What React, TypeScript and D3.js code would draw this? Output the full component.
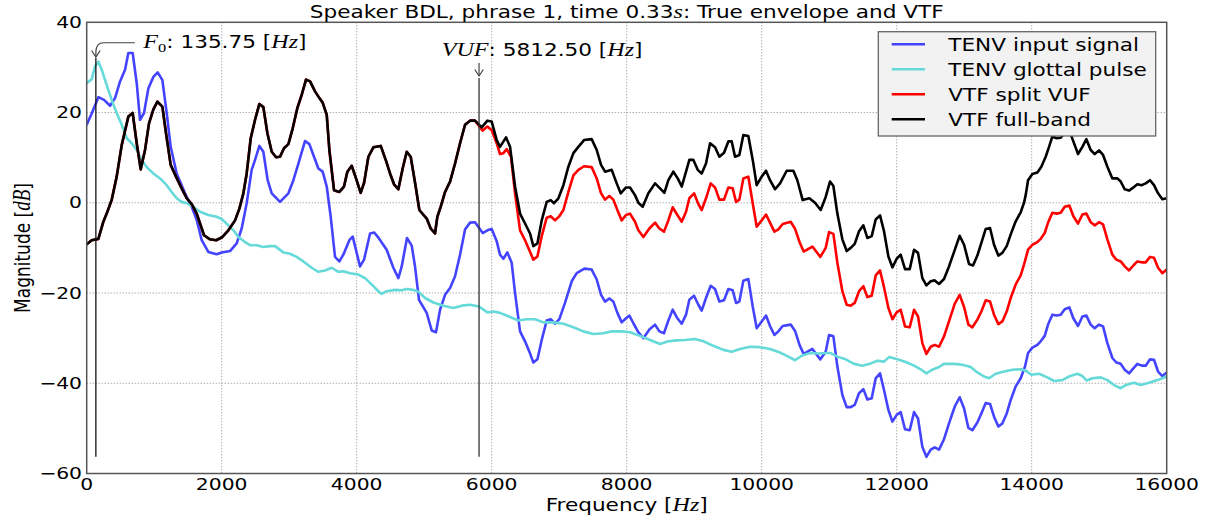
import React from "react";
import * as d3 from "d3";

type P = [number, number];

const F0 = 135.75;
const VUF = 5812.5;
const F0_TIP_DB = 32.3;
const VUF_TIP_DB = 28.1;
const VLINE_BOTTOM_DB = -56.3;

const xTicks = [0, 2000, 4000, 6000, 8000, 10000, 12000, 14000, 16000];
const yTicks = [-60, -40, -20, 0, 20, 40];

const legendLabels = ["TENV input signal", "TENV glottal pulse", "VTF split VUF", "VTF full-band"];

const tenvInput: P[] = [
  [0,17.3],[74,19.8],[173,23.4],[257,22.8],[346,21.5],[420,23.2],[494,26.9],[568,29.5],[617,33.2],[681,33.2],[741,26.5],[790,18.4],[849,19.9],[914,25.4],[988,27.9],[1052,28.9],[1121,27.2],[1185,19.9],[1244,12.4],[1333,6.5],[1457,2.1],[1556,-0.9],[1630,-3.8],[1704,-8.3],[1802,-10.9],[1926,-11.4],[2000,-11.0],[2123,-10.7],[2222,-9.0],[2296,-5.7],[2370,-0.1],[2444,7.3],[2494,9.5],[2558,12.6],[2617,11.3],[2681,5.0],[2741,2.1],[2864,0.2],[2988,2.1],[3062,5.0],[3136,8.7],[3235,13.7],[3299,13.0],[3358,10.6],[3432,7.6],[3496,6.9],[3556,3.6],[3615,-3.1],[3679,-12.0],[3743,-13.0],[3802,-11.5],[3891,-8.3],[3941,-7.5],[4049,-14.1],[4109,-12.6],[4198,-6.8],[4260,-6.6],[4330,-7.9],[4444,-10.4],[4543,-14.4],[4617,-16.7],[4667,-14.1],[4745,-7.8],[4815,-9.5],[4864,-14.1],[4923,-21.5],[5037,-24.4],[5111,-28.3],[5175,-28.7],[5235,-23.7],[5309,-20.4],[5383,-18.9],[5457,-16.3],[5531,-11.5],[5605,-5.9],[5679,-4.4],[5753,-4.3],[5867,-6.7],[5936,-6.1],[6000,-5.8],[6074,-8.5],[6123,-11.5],[6173,-12.4],[6232,-11.0],[6296,-13.3],[6346,-20.0],[6420,-28.5],[6494,-30.7],[6558,-33.0],[6617,-35.4],[6677,-34.7],[6741,-30.4],[6815,-26.1],[6874,-25.8],[6938,-26.8],[7002,-25.8],[7086,-22.2],[7185,-17.4],[7259,-15.6],[7373,-14.6],[7481,-14.8],[7556,-17.0],[7620,-20.4],[7679,-21.9],[7743,-21.2],[7802,-21.9],[7862,-24.4],[7926,-26.5],[7990,-25.6],[8040,-25.0],[8099,-26.7],[8173,-28.7],[8247,-30.0],[8336,-28.1],[8420,-27.0],[8484,-28.5],[8553,-28.9],[8617,-26.1],[8681,-23.7],[8751,-25.6],[8815,-26.8],[8879,-24.8],[8928,-21.5],[8998,-20.6],[9062,-22.6],[9111,-23.9],[9175,-21.1],[9244,-18.4],[9309,-19.1],[9373,-21.9],[9442,-21.6],[9506,-19.1],[9570,-19.4],[9620,-22.2],[9669,-21.9],[9728,-17.3],[9802,-16.9],[9867,-23.0],[9926,-27.8],[10000,-26.3],[10064,-25.0],[10123,-27.3],[10188,-29.3],[10247,-28.5],[10311,-27.3],[10430,-27.0],[10494,-28.4],[10563,-31.6],[10622,-33.5],[10751,-32.4],[10869,-34.7],[10948,-33.0],[10998,-29.3],[11062,-29.6],[11121,-36.3],[11195,-42.6],[11259,-45.3],[11319,-45.3],[11378,-44.8],[11442,-42.2],[11506,-41.3],[11565,-43.6],[11630,-43.3],[11689,-38.9],[11753,-37.8],[11812,-41.5],[11877,-45.9],[11936,-48.5],[12000,-47.0],[12059,-46.4],[12123,-50.2],[12193,-50.4],[12257,-46.4],[12316,-47.8],[12380,-54.1],[12440,-56.3],[12504,-54.7],[12563,-54.2],[12627,-54.7],[12701,-52.4],[12775,-48.9],[12859,-45.2],[12933,-43.1],[12998,-45.6],[13062,-49.9],[13121,-50.4],[13195,-48.7],[13254,-46.7],[13319,-44.4],[13383,-44.6],[13442,-47.4],[13506,-49.6],[13565,-48.9],[13630,-46.7],[13689,-43.7],[13763,-40.7],[13837,-38.9],[13901,-36.3],[13946,-33.3],[14010,-32.1],[14084,-31.5],[14133,-30.7],[14193,-29.5],[14242,-27.0],[14306,-24.8],[14370,-25.0],[14430,-24.8],[14489,-23.6],[14558,-23.2],[14617,-25.6],[14686,-27.3],[14751,-25.2],[14810,-25.0],[14874,-27.0],[14933,-27.8],[14998,-27.0],[15057,-27.4],[15121,-31.1],[15195,-34.4],[15254,-35.4],[15319,-35.7],[15378,-37.0],[15442,-37.8],[15506,-36.7],[15565,-35.7],[15630,-36.1],[15689,-36.1],[15753,-34.7],[15812,-34.8],[15872,-37.4],[15936,-38.4],[16000,-37.6],
];

const tenvGlottal: P[] = [
  [0,26.5],[74,27.4],[123,30.2],[173,31.3],[222,29.5],[296,26.1],[370,22.8],[444,19.9],[519,17.3],[593,14.3],[667,13.2],[741,11.7],[815,9.5],[889,7.9],[988,6.5],[1086,5.4],[1185,3.9],[1259,2.4],[1333,1.0],[1407,0.2],[1481,-0.1],[1580,-0.9],[1679,-2.0],[1802,-2.7],[1926,-3.1],[2000,-3.6],[2099,-5.0],[2173,-6.1],[2247,-7.6],[2346,-8.7],[2420,-9.4],[2519,-9.4],[2617,-9.8],[2716,-9.6],[2790,-9.6],[2914,-11.0],[3012,-11.3],[3111,-12.0],[3210,-13.0],[3333,-14.4],[3432,-15.3],[3531,-15.0],[3630,-14.4],[3728,-15.3],[3802,-15.2],[3901,-15.6],[4025,-15.9],[4123,-16.7],[4222,-18.1],[4321,-19.6],[4370,-20.2],[4444,-19.6],[4568,-19.3],[4667,-19.4],[4741,-19.1],[4840,-19.3],[4914,-19.7],[5012,-21.1],[5136,-22.1],[5284,-22.8],[5432,-23.3],[5556,-22.8],[5679,-22.6],[5812,-23.0],[5936,-24.3],[6025,-24.1],[6123,-24.4],[6272,-25.3],[6395,-26.1],[6519,-25.8],[6642,-25.8],[6765,-26.5],[6914,-26.5],[7062,-26.8],[7210,-27.6],[7358,-28.5],[7506,-29.1],[7654,-28.9],[7778,-28.5],[7926,-28.5],[8049,-28.7],[8198,-29.5],[8346,-30.4],[8494,-31.3],[8617,-30.7],[8741,-30.5],[8864,-30.4],[9012,-30.2],[9136,-30.7],[9284,-31.7],[9432,-32.6],[9556,-33.0],[9679,-32.4],[9827,-31.9],[9975,-32.0],[10123,-32.4],[10272,-33.2],[10395,-34.1],[10494,-34.9],[10593,-33.9],[10716,-33.3],[10839,-33.4],[10960,-33.3],[11022,-33.3],[11121,-34.1],[11244,-34.7],[11368,-35.7],[11491,-36.1],[11615,-35.6],[11714,-35.0],[11812,-35.2],[11886,-34.2],[12010,-34.7],[12133,-35.3],[12257,-36.1],[12356,-36.9],[12440,-37.8],[12528,-37.0],[12627,-36.4],[12701,-35.7],[12849,-35.7],[12973,-35.9],[13096,-36.4],[13195,-37.6],[13294,-38.5],[13368,-38.9],[13467,-37.9],[13590,-37.4],[13714,-37.0],[13837,-36.9],[13911,-37.2],[13995,-38.1],[14109,-37.9],[14232,-38.7],[14331,-39.5],[14454,-39.3],[14553,-38.5],[14677,-37.9],[14751,-38.4],[14815,-39.4],[14899,-38.9],[15022,-38.7],[15121,-39.3],[15220,-40.4],[15319,-41.1],[15393,-40.4],[15516,-39.9],[15615,-40.4],[15738,-39.9],[15862,-39.3],[15936,-38.9],[16000,-38.5],
];

const vtfFull: P[] = [
  [0,-9.2],[74,-8.3],[173,-8.0],[247,-4.2],[296,-2.4],[370,0.6],[444,5.8],[519,12.8],[617,19.1],[681,19.9],[741,13.2],[800,7.4],[864,11.7],[923,17.6],[988,20.7],[1047,22.4],[1121,21.3],[1175,15.4],[1244,8.4],[1323,5.8],[1407,3.2],[1481,1.0],[1556,-0.3],[1630,-2.4],[1738,-7.2],[1827,-8.1],[1916,-8.3],[2000,-7.7],[2099,-6.1],[2198,-3.9],[2262,-1.3],[2321,2.1],[2370,6.5],[2430,14.3],[2494,18.4],[2558,21.9],[2617,21.2],[2677,15.4],[2741,11.3],[2805,10.1],[2864,10.2],[2923,12.1],[2988,13.0],[3052,16.5],[3121,21.0],[3185,23.9],[3249,27.3],[3309,26.9],[3383,24.7],[3447,23.2],[3496,22.2],[3556,19.5],[3595,11.7],[3664,2.8],[3743,2.4],[3812,3.6],[3862,6.9],[3926,8.2],[3990,5.4],[4059,2.2],[4109,4.4],[4173,10.2],[4247,12.3],[4356,12.6],[4435,9.3],[4494,6.5],[4553,4.1],[4617,3.0],[4681,7.6],[4741,11.3],[4800,10.2],[4864,4.5],[4928,-1.6],[5037,-3.5],[5096,-5.7],[5160,-6.8],[5195,-3.1],[5244,-0.9],[5309,2.4],[5383,4.7],[5457,8.7],[5531,13.2],[5605,17.3],[5679,18.2],[5753,18.2],[5852,16.7],[5936,18.2],[6000,18.0],[6074,13.9],[6123,12.4],[6212,14.5],[6272,12.4],[6346,3.6],[6420,-2.4],[6494,-4.6],[6568,-6.8],[6617,-9.6],[6677,-9.0],[6741,-3.9],[6815,0.2],[6874,0.6],[6923,-0.1],[6988,1.0],[7062,3.9],[7136,8.0],[7210,11.0],[7284,12.4],[7368,13.9],[7481,14.1],[7556,11.7],[7620,8.4],[7679,6.9],[7778,7.3],[7852,4.3],[7911,2.1],[7990,3.4],[8049,3.4],[8123,1.7],[8173,0.0],[8237,-0.9],[8321,2.1],[8420,4.3],[8494,3.2],[8558,2.2],[8617,5.0],[8691,6.9],[8756,5.4],[8815,3.6],[8879,6.9],[8928,9.5],[8988,9.5],[9052,7.3],[9111,6.5],[9175,8.7],[9235,13.2],[9309,12.3],[9373,10.2],[9442,11.1],[9506,13.6],[9556,13.6],[9605,10.2],[9669,10.6],[9728,15.0],[9802,14.8],[9867,9.5],[9926,3.9],[10000,5.8],[10064,7.1],[10123,5.0],[10198,3.0],[10272,4.3],[10370,7.1],[10469,7.1],[10528,5.0],[10607,0.6],[10706,1.0],[10790,0.0],[10874,-1.6],[10948,1.3],[11012,4.7],[11062,3.7],[11121,-2.4],[11195,-8.1],[11259,-10.7],[11319,-10.0],[11378,-9.1],[11442,-6.3],[11506,-5.0],[11565,-7.8],[11630,-7.4],[11689,-3.7],[11753,-2.8],[11812,-6.3],[11877,-11.9],[11936,-14.3],[12000,-12.4],[12059,-11.5],[12123,-14.7],[12193,-14.7],[12257,-10.4],[12316,-11.1],[12380,-16.7],[12440,-18.3],[12504,-17.4],[12563,-17.2],[12627,-18.0],[12701,-16.9],[12775,-14.1],[12859,-10.5],[12933,-7.3],[12998,-9.3],[13072,-13.6],[13131,-13.9],[13195,-11.7],[13254,-8.9],[13319,-5.8],[13383,-5.6],[13442,-9.3],[13506,-11.7],[13565,-11.1],[13630,-9.6],[13689,-7.0],[13763,-4.1],[13837,-2.1],[13886,0.0],[13911,1.7],[13946,5.0],[14010,6.4],[14084,6.7],[14143,8.0],[14207,10.2],[14257,12.4],[14306,14.7],[14370,14.3],[14430,14.4],[14489,15.6],[14558,16.0],[14617,13.6],[14686,10.8],[14751,12.4],[14810,14.1],[14874,11.7],[14933,10.8],[14998,11.6],[15057,10.6],[15121,8.0],[15195,5.4],[15269,5.4],[15319,4.7],[15378,3.0],[15442,2.7],[15506,3.4],[15565,4.1],[15630,3.9],[15689,4.3],[15753,5.0],[15812,3.9],[15872,2.1],[15936,0.8],[16000,1.0],
];

// split-VUF VTF above the VUF (below the VUF it coincides with the full-band VTF)
const vtfSplitHigh: P[] = [
  [5812,17.0],[5867,16.0],[5936,16.9],[6000,16.1],[6074,13.2],[6123,10.8],[6173,11.0],[6222,11.9],[6286,10.2],[6346,2.1],[6420,-6.1],[6494,-8.3],[6558,-10.5],[6617,-12.6],[6677,-11.9],[6741,-7.4],[6815,-3.3],[6874,-3.0],[6938,-3.9],[7002,-3.0],[7062,-1.6],[7136,2.4],[7210,6.1],[7284,7.3],[7368,8.1],[7481,7.9],[7556,5.4],[7620,2.1],[7679,0.7],[7743,1.5],[7802,0.7],[7862,-1.6],[7926,-3.9],[7990,-2.7],[8049,-2.4],[8123,-4.2],[8173,-6.1],[8247,-7.6],[8336,-5.7],[8420,-4.4],[8484,-5.7],[8553,-6.4],[8617,-3.9],[8681,-1.0],[8751,-2.7],[8815,-4.2],[8879,-2.0],[8928,1.0],[8998,2.1],[9062,-0.3],[9111,-1.6],[9175,1.0],[9244,4.3],[9309,3.4],[9373,0.7],[9442,0.7],[9506,3.4],[9570,3.2],[9620,0.2],[9669,0.7],[9728,5.4],[9802,5.8],[9867,-0.1],[9926,-5.3],[10000,-3.9],[10064,-2.6],[10123,-4.4],[10188,-6.4],[10247,-5.9],[10311,-4.7],[10430,-4.2],[10494,-5.8],[10563,-8.8],[10622,-10.8],[10751,-9.7],[10869,-12.0],[10948,-10.0],[10998,-6.5],[11062,-6.9],[11121,-13.3],[11195,-19.6],[11259,-22.6],[11319,-22.8],[11378,-22.2],[11442,-19.6],[11506,-18.5],[11565,-20.9],[11630,-20.6],[11689,-16.1],[11753,-15.0],[11812,-18.7],[11877,-23.3],[11936,-25.8],[12000,-24.3],[12059,-23.7],[12123,-27.4],[12193,-27.6],[12257,-23.7],[12316,-25.2],[12380,-31.1],[12440,-33.5],[12504,-31.9],[12563,-31.5],[12627,-31.9],[12701,-29.6],[12775,-26.3],[12859,-22.4],[12933,-20.4],[12998,-23.1],[13062,-27.0],[13121,-27.6],[13195,-25.9],[13254,-24.1],[13319,-21.6],[13383,-21.9],[13442,-24.8],[13506,-26.9],[13565,-26.3],[13630,-24.1],[13689,-21.1],[13763,-18.1],[13837,-16.1],[13886,-13.7],[13946,-10.4],[14010,-9.3],[14084,-8.7],[14133,-8.0],[14193,-6.7],[14242,-4.4],[14306,-2.2],[14370,-2.4],[14430,-2.2],[14489,-0.9],[14558,-0.6],[14617,-3.0],[14686,-4.6],[14751,-2.6],[14810,-2.4],[14874,-4.3],[14933,-5.0],[14998,-4.3],[15057,-4.8],[15121,-8.1],[15195,-11.5],[15254,-12.6],[15319,-13.0],[15378,-14.1],[15442,-15.0],[15506,-13.9],[15565,-13.0],[15630,-13.2],[15689,-13.2],[15753,-12.0],[15812,-12.2],[15872,-14.4],[15936,-15.6],[16000,-14.8],
];

const W = 1205;
const H = 520;
const M = { left: 86.7, right: 1166.7, top: 22.3, bottom: 473.5 };
const SX = 1.27; // horizontal stretch of the text in the reference
const SANS = "DejaVu Sans";
const SERIF = "Liberation Serif";

const COLORS = ["#4444ff", "#66d9d9", "#ff0000", "#000000"];

export default function App() {
  const x = d3.scaleLinear().domain([0, 16000]).range([M.left, M.right]);
  const y = d3.scaleLinear().domain([-60, 40]).range([M.bottom, M.top]);
  const line = d3
    .line<P>()
    .x((d) => x(d[0]))
    .y((d) => y(d[1]));

  const vtfSplit: P[] = vtfFull.filter((d) => d[0] < VUF).concat(vtfSplitHigh);
  const series: P[][] = [tenvInput, tenvGlottal, vtfSplit, vtfFull];

  const stretched = (tx: number, ty: number, child: React.ReactNode, key?: string) => (
    <g key={key} transform={`translate(${tx},${ty}) scale(${SX},1)`}>{child}</g>
  );

  const xf0 = x(F0);
  const yf0 = y(F0_TIP_DB);
  const xv = x(VUF);
  const yv = y(VUF_TIP_DB);

  const legendX = 878.3;
  const legendY = 31.7;
  const legendW = 277.4;
  const legendH = 104.3;

  return (
    <svg
      width={W}
      height={H}
      viewBox={`0 0 ${W} ${H}`}
      style={{ position: "absolute", left: 0, top: 0, background: "#fff" }}
      fontFamily={SANS}
    >
      <defs>
        <clipPath id="plotClip">
          <rect x={M.left} y={M.top} width={M.right - M.left} height={M.bottom - M.top} />
        </clipPath>
      </defs>
      <rect x={0} y={0} width={W} height={H} fill="#fff" />

      {/* grid */}
      <g stroke="#8a8a8a" strokeWidth={1} strokeDasharray="1,2">
        {xTicks.slice(1, -1).map((t) => (
          <line key={"gx" + t} x1={x(t)} x2={x(t)} y1={M.top} y2={M.bottom} />
        ))}
        {yTicks.slice(1, -1).map((t) => (
          <line key={"gy" + t} x1={M.left} x2={M.right} y1={y(t)} y2={y(t)} />
        ))}
      </g>

      {/* curves */}
      <g clipPath="url(#plotClip)" fill="none" strokeLinejoin="round" strokeLinecap="round">
        {series.map((s, i) => (
          <path key={"s" + i} d={line(s) || ""} stroke={COLORS[i]} strokeWidth={2.6} />
        ))}
      </g>

      {/* F0 and VUF vertical markers */}
      <line x1={xf0} x2={xf0} y1={yf0 + 1} y2={y(VLINE_BOTTOM_DB)} stroke="#111" strokeWidth={1.3} />
      <line x1={xv} x2={xv} y1={yv + 2} y2={y(VLINE_BOTTOM_DB)} stroke="#333" strokeWidth={1.3} />

      {/* F0 annotation arrow */}
      <g fill="none" stroke="#444" strokeWidth={1.2}>
        <path d={`M${xf0 + 39},${yf0 - 14.3} L${xf0 + 8},${yf0 - 14.3} Q${xf0},${yf0 - 14.3} ${xf0},${yf0 - 5} L${xf0},${yf0}`} />
        <path d={`M${xf0 - 4.3},${yf0 - 6.5} L${xf0},${yf0} L${xf0 + 4.3},${yf0 - 6.5}`} />
        <path d={`M${xv},${yv - 13} L${xv},${yv}`} />
        <path d={`M${xv - 4.3},${yv - 6.5} L${xv},${yv} L${xv + 4.3},${yv - 6.5}`} />
      </g>

      {/* annotation texts */}
      {stretched(
        143.3,
        48.3,
        <text fontSize={17} fill="#000">
          <tspan fontFamily={SERIF} fontStyle="italic" fontSize={19}>F</tspan>
          <tspan fontFamily={SERIF} fontSize={13} dy={4}>0</tspan>
          <tspan dy={-4}>: 135.75 [</tspan>
          <tspan fontFamily={SERIF} fontStyle="italic" fontSize={19}>Hz</tspan>
          <tspan>]</tspan>
        </text>
      )}
      {stretched(
        441.7,
        56,
        <text fontSize={17} fill="#000">
          <tspan fontFamily={SERIF} fontStyle="italic" fontSize={19}>VUF</tspan>
          <tspan>: 5812.50 [</tspan>
          <tspan fontFamily={SERIF} fontStyle="italic" fontSize={19}>Hz</tspan>
          <tspan>]</tspan>
        </text>
      )}

      {/* axes frame */}
      <rect
        x={M.left}
        y={M.top}
        width={M.right - M.left}
        height={M.bottom - M.top}
        fill="none"
        stroke="#555"
        strokeWidth={1.5}
      />

      {/* tick labels */}
      {xTicks.map((t) =>
        stretched(
          x(t),
          490,
          <text fontSize={16} textAnchor="middle" fill="#000">{t}</text>,
          "xt" + t
        )
      )}
      {yTicks.map((t) =>
        stretched(
          82,
          y(t) + 5.6,
          <text fontSize={16} textAnchor="end" fill="#000">{t < 0 ? "\u2212" + Math.abs(t) : String(t)}</text>,
          "yt" + t
        )
      )}

      {/* axis labels */}
      {stretched(
        626.7,
        510.5,
        <text fontSize={17} textAnchor="middle" fill="#000">
          <tspan>Frequency [</tspan>
          <tspan fontFamily={SERIF} fontStyle="italic" fontSize={19}>Hz</tspan>
          <tspan>]</tspan>
        </text>
      )}
      <g transform={`translate(29.5,248) scale(${SX},1) rotate(-90)`}>
        <text fontSize={17} textAnchor="middle" fill="#000">
          <tspan>Magnitude [</tspan>
          <tspan fontFamily={SERIF} fontStyle="italic" fontSize={19}>dB</tspan>
          <tspan>]</tspan>
        </text>
      </g>

      {/* title */}
      {stretched(
        626.7,
        18.3,
        <text fontSize={17} textAnchor="middle" fill="#000">
          <tspan>Speaker BDL, phrase 1, time 0.33</tspan>
          <tspan fontFamily={SERIF} fontStyle="italic" fontSize={19}>s</tspan>
          <tspan>: True envelope and VTF</tspan>
        </text>
      )}

      {/* legend */}
      <rect x={legendX} y={legendY} width={legendW} height={legendH} fill="#f2f2f2" stroke="#666" strokeWidth={1.3} />
      {legendLabels.map((lab, i) => {
        const ly = 44.3 + i * 25;
        return (
          <g key={"lg" + i}>
            <line x1={891.7} x2={925} y1={ly} y2={ly} stroke={COLORS[i]} strokeWidth={2.6} />
            {stretched(948.3, ly + 6.2, <text fontSize={17} fill="#000">{lab}</text>)}
          </g>
        );
      })}
    </svg>
  );
}
